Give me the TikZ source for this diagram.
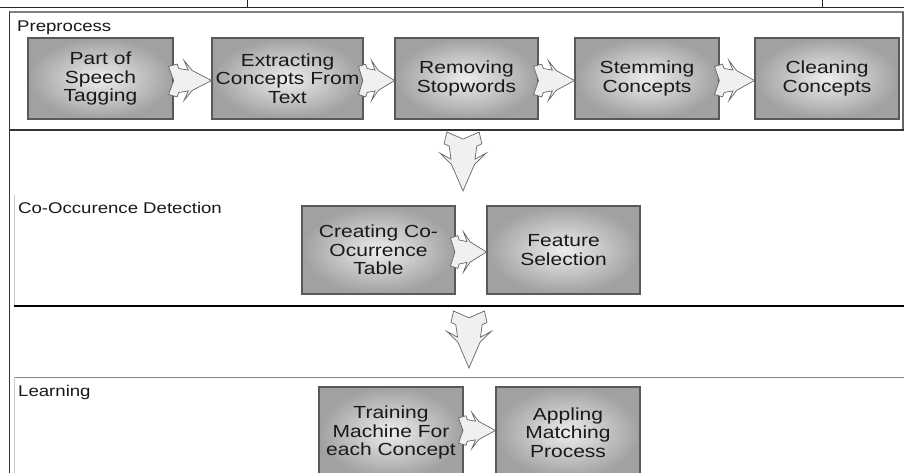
\documentclass[tikz,border=0pt]{standalone}
\usepackage{fontspec}
\setmainfont[FakeStretch=1.2]{Liberation Sans}
\usetikzlibrary{calc}

\tikzset{
  procbox/.style={draw=black!65, line width=1.1pt, shading=radial,
    inner color=black!7, outer color=black!37, align=center, text=black!90,
    font=\fontsize{17.5}{18.5}\selectfont, inner sep=0pt},
  sectlabel/.style={anchor=base west, inner sep=0pt,
    font=\fontsize{15.5}{18}\selectfont, text=black!90},
  boltshape/.style={draw=black!60, line width=0.7pt, fill=black!6, line join=miter},
}

% zig-zag block arrow from #1 (tail) to #2 (tip), half width #3 (pt)
\newcommand\boltarrow[3]{%
  \draw[boltshape] (#2)
    -- ($(#1)!0.55!(#2)!{0.5*#3pt}!90:(#2)$)
    -- ($(#1)!0.36!(#2)!{#3pt}!90:(#2)$)
    -- ($(#1)!0.46!(#2)!{0.52*#3pt}!90:(#2)$)
    -- ($(#1)!0.24!(#2)!{0.6*#3pt}!90:(#2)$)
    -- ($(#1)!0.2!(#2)!{0.82*#3pt}!90:(#2)$)
    -- ($(#1)!{0.7*#3pt}!90:(#2)$)
    -- ($(#1)!0.12!(#2)$)
    -- ($(#1)!{0.7*#3pt}!-90:(#2)$)
    -- ($(#1)!0.2!(#2)!{0.82*#3pt}!-90:(#2)$)
    -- ($(#1)!0.24!(#2)!{0.6*#3pt}!-90:(#2)$)
    -- ($(#1)!0.46!(#2)!{0.52*#3pt}!-90:(#2)$)
    -- ($(#1)!0.36!(#2)!{#3pt}!-90:(#2)$)
    -- ($(#1)!0.55!(#2)!{0.5*#3pt}!-90:(#2)$)
    -- cycle;}

\begin{document}
\begin{tikzpicture}[x=1pt,y=-1pt]
\useasboundingbox (0,0) rectangle (904,473);
\clip (0,0) rectangle (904,473);
\fill[white] (0,0) rectangle (904,473);

% outer frame lines
\draw[black!85, line width=0.8pt] (0,7) -- (904,7);
\draw[black!85, line width=0.8pt] (247,0) -- (247,7);
\draw[black!85, line width=0.8pt] (822,0) -- (822,7);

% Preprocess frame
\draw[black!50, line width=1.6pt] (9,12) -- (904,12);
\draw[black!60, line width=1.2pt] (903,12) -- (903,130);
\draw[black!80, line width=1.4pt] (9.5,12) -- (9.5,473);
\draw[black!80, line width=2.2pt] (9,130) -- (904,130);

% section separators
\draw[black!20, line width=0.8pt] (14.5,195) -- (14.5,306);
\draw[black, line width=2pt] (14,306) -- (904,306);
\draw[black!50, line width=0.8pt] (14,377) -- (904,377);
\draw[black!20, line width=0.8pt] (14.5,377) -- (14.5,473);

% section labels
\node[sectlabel] (lpre) at (17,31.5) {Preprocess};
\node[sectlabel] (lco) at (18,213) {Co-Occurence Detection};
\node[sectlabel] (llearn) at (18,396) {Learning};

% Preprocess steps
\node[procbox, minimum width=145pt, minimum height=81pt] (p1) at (100.5,78.5) {Part of\\Speech\\Tagging};
\node[procbox, minimum width=151pt, minimum height=81pt] (p2) at (287.5,78.5) {Extracting\\Concepts From\\Text};
\node[procbox, minimum width=143pt, minimum height=81pt] (p3) at (466.5,78.5) {Removing\\Stopwords};
\node[procbox, minimum width=144pt, minimum height=81pt] (p4) at (647,78.5) {Stemming\\Concepts};
\node[procbox, minimum width=144pt, minimum height=81pt] (p5) at (827,78.5) {Cleaning\\Concepts};

% Co-occurrence steps
\node[procbox, minimum width=153pt, minimum height=88pt] (c1) at (378.5,250) {Creating Co-\\Ocurrence\\Table};
\node[procbox, minimum width=153pt, minimum height=88pt] (c2) at (563.5,250) {Feature\\Selection};

% Learning steps
\node[procbox, minimum width=144pt, minimum height=91pt] (l1) at (391,432.5) {Training\\Machine For\\each Concept};
\node[procbox, minimum width=144pt, minimum height=91pt] (l2) at (568,432.5) {Appling\\Matching\\Process};

% arrows within sections
\boltarrow{[xshift=-5pt,yshift=-2pt]p1.east}{[yshift=-2pt]p2.west}{20}
\boltarrow{[xshift=-5pt,yshift=-2pt]p2.east}{[yshift=-2pt]p3.west}{20}
\boltarrow{[xshift=-5pt,yshift=-2pt]p3.east}{[yshift=-2pt]p4.west}{20}
\boltarrow{[xshift=-5pt,yshift=-2pt]p4.east}{[yshift=-2pt]p5.west}{20}
\boltarrow{[xshift=-5pt,yshift=-2pt]c1.east}{[yshift=-2pt]c2.west}{20}
\boltarrow{[xshift=-5pt,yshift=2pt]l1.east}{[yshift=2pt]l2.west}{18}

% arrows between sections
\coordinate (d1s) at (463,132);
\coordinate (d1e) at (463,191);
\coordinate (d2s) at (469,311);
\coordinate (d2e) at (469,368);
\boltarrow{d1s}{d1e}{23}
\boltarrow{d2s}{d2e}{22}
\end{tikzpicture}
\end{document}
